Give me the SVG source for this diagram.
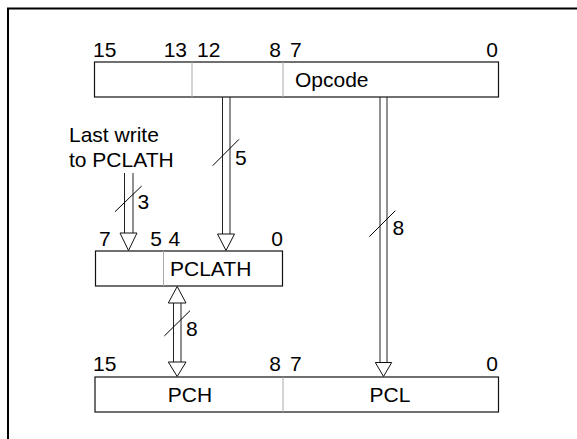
<svg xmlns="http://www.w3.org/2000/svg" width="577" height="439" viewBox="0 0 577 439">
<style>
text{font-family:"Liberation Sans",Arial,sans-serif;font-size:21px;fill:#000}
.reg{fill:#fff;stroke:#111;stroke-width:1.2}
.div{stroke:#aaa;stroke-width:1}
.sh{stroke:#222;stroke-width:1;fill:none}
.hd{fill:#fff;stroke:#111;stroke-width:1}
.sl{stroke:#000;stroke-width:1}
.e{text-anchor:end}
.m{text-anchor:middle}
</style>
<rect width="577" height="439" fill="#fff"/>
<path d="M8 439 V8.5 H577" fill="none" stroke="#000" stroke-width="2"/>
<g id="instr">
<rect class="reg" x="94.5" y="62" width="404" height="35"/>
<line class="div" x1="192" y1="62" x2="192" y2="97"/>
<line class="div" x1="283" y1="62" x2="283" y2="97"/>
<text x="93" y="57">15</text>
<text class="e" x="187" y="57">13</text>
<text x="197" y="57">12</text>
<text class="e" x="281" y="57">8</text>
<text x="290" y="57">7</text>
<text class="e" x="498" y="57">0</text>
<text x="295" y="87">Opcode</text>
</g>
<g id="lastwrite">
<text x="69" y="142">Last write</text>
<text x="69" y="167">to PCLATH</text>
</g>
<g id="pclath">
<rect class="reg" x="95.5" y="251" width="187" height="35"/>
<line class="div" x1="163.5" y1="251" x2="163.5" y2="286"/>
<text x="99" y="246">7</text>
<text class="e" x="162" y="246">5</text>
<text x="168.5" y="246">4</text>
<text class="e" x="283" y="246">0</text>
<text x="170" y="276">PCLATH</text>
</g>
<g id="pc">
<rect class="reg" x="95" y="377" width="403.5" height="35"/>
<line class="div" x1="283" y1="377" x2="283" y2="412"/>
<text x="93" y="371">15</text>
<text class="e" x="281" y="371">8</text>
<text x="290" y="371">7</text>
<text class="e" x="498" y="371">0</text>
<text class="m" x="190" y="402">PCH</text>
<text class="m" x="390" y="402">PCL</text>
</g>
<g id="connectors">
<line class="sh" x1="222.5" y1="97" x2="222.5" y2="234"/>
<line class="sh" x1="230" y1="97" x2="230" y2="234"/>
<polygon class="hd" points="217.5,234 234.5,234 226,250.5"/>
<line class="sl" x1="212.7" y1="165.7" x2="239" y2="139.3"/>
<text x="235" y="165">5</text>
<line class="sh" x1="124.5" y1="173" x2="124.5" y2="233"/>
<line class="sh" x1="133" y1="173" x2="133" y2="233"/>
<polygon class="hd" points="120,233 137,233 128.5,250.5"/>
<line class="sl" x1="115" y1="211.7" x2="141.7" y2="186"/>
<text x="137.5" y="209">3</text>
<line class="sh" x1="380" y1="97" x2="380" y2="362.5"/>
<line class="sh" x1="387" y1="97" x2="387" y2="362.5"/>
<polygon class="hd" points="375.3,362.5 391.7,362.5 383.5,376.5"/>
<line class="sl" x1="369.3" y1="236.7" x2="395.3" y2="210.7"/>
<text x="392.5" y="235">8</text>
<line class="sh" x1="173.5" y1="303" x2="173.5" y2="362"/>
<line class="sh" x1="181" y1="303" x2="181" y2="362"/>
<polygon class="hd" points="168.3,303 186,303 177.2,286.5"/>
<polygon class="hd" points="168.3,362 186,362 177.2,376.5"/>
<line class="sl" x1="164.3" y1="336" x2="190" y2="310.7"/>
<text x="186" y="336">8</text>
</g>
</svg>
